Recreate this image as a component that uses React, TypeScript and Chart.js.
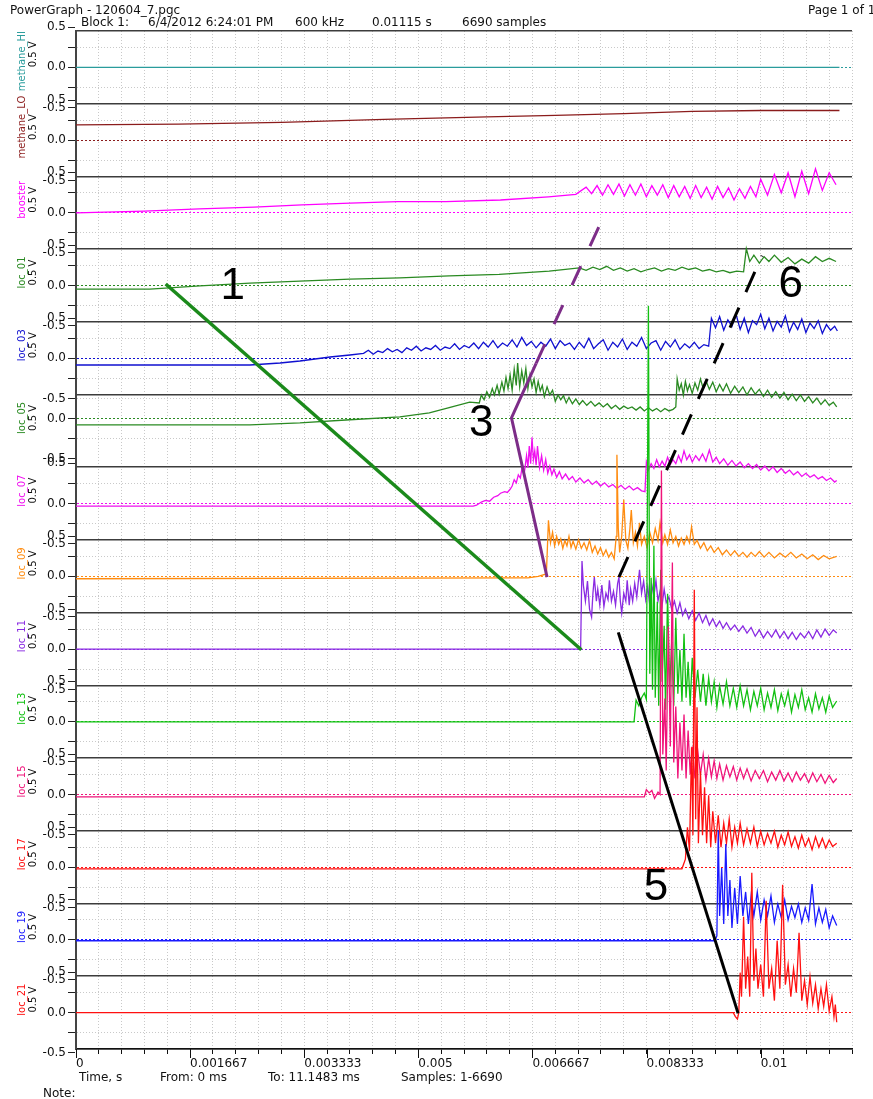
import React, { useEffect, useRef } from 'react';
import { Chart, registerables } from 'chart.js';

Chart.register(...registerables);

// ---- time axis (seconds) ----
const X_MAX_S = 34 / 3000;
const X_TICK_COUNT = 35; // one grid division every 1/3000 s
const X_TICK_LABELS = ['0', '0.001667', '0.003333', '0.005', '0.006667', '0.008333', '0.01'];

// ---- channel strips ----
const CHANNEL_NAMES = [
  'methane_HI', 'methane_LO', 'booster', 'loc_01', 'loc_03', 'loc_05', 'loc_07',
  'loc_09', 'loc_11', 'loc_13', 'loc_15', 'loc_17', 'loc_19', 'loc_21',
];
const CHANNEL_COLORS = [
  '#2a9c9c', '#8b1c1c', '#ff00ff', '#2a8a22', '#1010d0', '#2a8a22', '#f010f0',
  '#ff8c10', '#8a2be2', '#12c012', '#f0147a', '#ff1010', '#1a1aff', '#ff1010',
];
// strip row of each channel's 0 V line (strip k spans rows k..k+1)
const ZERO_ROWS = [0.5, 1.5, 2.5, 3.5, 4.5, 5.335, 6.5, 7.5, 8.5, 9.5, 10.5, 11.5, 12.5, 13.5];
const ROW_COUNT = 14;
const ROWS_PER_VOLT = 1.1;
const Y_TICK_VOLTS = [0.5, 0.25, 0, -0.25, -0.5];
const Y_TICK_TEXT = ['0.5', '', '0.0', '', '-0.5'];
const STRIP_UNIT = '0.5 V';

// ---- recorded signals: time in ms, value in V ----
const methaneHiT = [0, 11.15];
const methaneHiV = [0, 0];

const methaneLoT = [0, 1.5, 3.0, 4.5, 6.0, 7.0, 8.0, 9.0, 10.0, 11.15];
const methaneLoV = [0.19, 0.2, 0.22, 0.26, 0.29, 0.31, 0.33, 0.36, 0.37, 0.37];

const boosterT = [
  0, 1.0, 1.8, 2.6, 3.3, 4.0, 4.7, 5.4, 6.2, 6.9, 7.3,
  7.45, 7.53, 7.61, 7.69, 7.77, 7.85, 7.93, 8.01, 8.09, 8.17, 8.25, 8.33, 8.41, 8.49,
  8.57, 8.65, 8.73, 8.81, 8.89, 8.97, 9.05, 9.13, 9.21, 9.29, 9.37, 9.45, 9.53, 9.61,
  9.69, 9.77, 9.85, 9.93, 10.0, 10.1, 10.2, 10.3, 10.4, 10.5, 10.6, 10.7, 10.8, 10.9, 11.0, 11.1,
];
const boosterV = [
  0, 0.02, 0.05, 0.07, 0.1, 0.12, 0.14, 0.14, 0.16, 0.2, 0.23,
  0.32, 0.24, 0.34, 0.22, 0.35, 0.23, 0.36, 0.21, 0.35, 0.22, 0.36, 0.2, 0.34, 0.22,
  0.35, 0.19, 0.34, 0.2, 0.33, 0.18, 0.34, 0.19, 0.32, 0.17, 0.33, 0.19, 0.31, 0.16,
  0.3, 0.18, 0.33, 0.2, 0.42, 0.22, 0.48, 0.25, 0.5, 0.2, 0.52, 0.24, 0.55, 0.28, 0.5, 0.35,
];

const loc01T = [
  0, 1.08, 1.81, 2.54, 3.27, 4.0, 4.73, 5.45, 6.18, 6.91, 7.35,
  7.45, 7.55, 7.65, 7.75, 7.85, 7.95, 8.05, 8.15, 8.25, 8.35, 8.45, 8.55, 8.65, 8.75,
  8.85, 8.95, 9.05, 9.15, 9.25, 9.35, 9.45, 9.55, 9.65, 9.75, 9.79, 9.84, 9.9, 9.98,
  10.05, 10.12, 10.2, 10.3, 10.4, 10.5, 10.6, 10.7, 10.8, 10.9, 11.0, 11.1,
];
const loc01V = [
  -0.045, -0.045, -0.005, 0.03, 0.055, 0.08, 0.095, 0.12, 0.14, 0.18, 0.22,
  0.19, 0.23, 0.2, 0.24, 0.19, 0.22, 0.18, 0.21, 0.17, 0.2, 0.22, 0.18, 0.21, 0.19,
  0.23, 0.2, 0.22, 0.18, 0.2, 0.17, 0.19, 0.16, 0.18, 0.17, 0.46, 0.3, 0.38, 0.28,
  0.36, 0.3, 0.38, 0.29, 0.35, 0.27, 0.33, 0.28, 0.36, 0.3, 0.34, 0.3,
];

const loc03T = [
  0, 2.54, 2.98, 3.27, 3.71, 4.0,
  4.2, 4.27, 4.34, 4.41, 4.48, 4.55, 4.62, 4.69, 4.76, 4.83, 4.9, 4.97, 5.04, 5.11, 5.18,
  5.25, 5.32, 5.39, 5.46, 5.53, 5.6, 5.67, 5.74, 5.81, 5.88, 5.95, 6.02, 6.09, 6.16,
  6.23, 6.3, 6.37, 6.44, 6.51, 6.58, 6.65, 6.72, 6.79, 6.86, 6.93, 7.0, 7.07, 7.14,
  7.21, 7.28, 7.35, 7.42, 7.49, 7.56, 7.63, 7.7, 7.77, 7.84, 7.91, 7.98, 8.05, 8.12,
  8.19, 8.26, 8.33, 8.4, 8.47, 8.54, 8.61, 8.68, 8.75, 8.82, 8.89, 8.96, 9.03, 9.1,
  9.17, 9.24, 9.28, 9.34, 9.4, 9.46, 9.52, 9.58, 9.64, 9.7, 9.76, 9.82, 9.88, 9.94,
  10.0, 10.06, 10.12, 10.18, 10.24, 10.3, 10.36, 10.42, 10.48, 10.54, 10.6, 10.66, 10.72, 10.78,
  10.84, 10.9, 10.96, 11.02, 11.08, 11.12,
];
const loc03V = [
  -0.085, -0.085, -0.06, -0.035, 0.015, 0.04,
  0.06, 0.1, 0.05, 0.09, 0.07, 0.12, 0.08, 0.11, 0.07, 0.13, 0.1, 0.15, 0.09, 0.13, 0.11,
  0.16, 0.1, 0.14, 0.12, 0.18, 0.11, 0.16, 0.13, 0.19, 0.12, 0.2, 0.14, 0.22, 0.13,
  0.19, 0.15, 0.23, 0.14, 0.26, 0.16, 0.21, 0.13, 0.2, 0.15, 0.24, 0.12, 0.22, 0.16,
  0.19, 0.11, 0.2, 0.13, 0.25, 0.12, 0.18, 0.23, 0.1, 0.2, 0.14, 0.24, 0.11, 0.2,
  0.15, 0.26, 0.12, 0.19, 0.22, 0.1, 0.21, 0.14, 0.23, 0.11, 0.18, 0.13, 0.2, 0.12,
  0.17, 0.15, 0.5, 0.38, 0.52, 0.35, 0.48, 0.4, 0.55, 0.36, 0.5, 0.32, 0.47, 0.42,
  0.55, 0.37, 0.5, 0.34, 0.46, 0.39, 0.53, 0.33, 0.45, 0.36, 0.49, 0.32, 0.44, 0.37,
  0.47, 0.31, 0.42, 0.35, 0.4, 0.34,
];

const loc05T = [
  0, 2.54, 3.27, 4.0, 4.73, 5.16, 5.45, 5.75,
  5.89, 5.92, 5.96, 6.0, 6.04, 6.08, 6.11, 6.15, 6.18, 6.22, 6.25, 6.28, 6.31, 6.34, 6.37,
  6.4, 6.43, 6.45, 6.48, 6.51, 6.54, 6.57, 6.6, 6.63, 6.66, 6.69, 6.72, 6.75, 6.78,
  6.81, 6.84, 6.88, 6.92, 6.96, 7.0, 7.04, 7.08, 7.12, 7.16, 7.2, 7.25, 7.3, 7.35,
  7.4, 7.46, 7.52, 7.58, 7.64, 7.7, 7.76, 7.82, 7.88, 7.94, 8.0, 8.06, 8.12, 8.18,
  8.24, 8.3, 8.36, 8.42, 8.48, 8.54, 8.6, 8.66, 8.72, 8.76, 8.78, 8.81, 8.84, 8.87,
  8.9, 8.93, 8.96, 9.0, 9.04, 9.08, 9.12, 9.16, 9.2, 9.25, 9.3, 9.35, 9.4, 9.45,
  9.5, 9.56, 9.62, 9.68, 9.74, 9.8, 9.86, 9.92, 9.98, 10.04, 10.1, 10.16, 10.22, 10.28,
  10.34, 10.4, 10.46, 10.52, 10.58, 10.64, 10.7, 10.76, 10.82, 10.88, 10.94, 11.0, 11.06, 11.11,
];
const loc05V = [
  -0.075, -0.075, -0.05, -0.01, 0.025, 0.075, 0.14, 0.21,
  0.2, 0.3, 0.24, 0.34, 0.27, 0.38, 0.3, 0.42, 0.31, 0.46, 0.35, 0.52, 0.38, 0.55, 0.36,
  0.62, 0.42, 0.7, 0.4, 0.6, 0.45, 0.63, 0.38, 0.55, 0.4, 0.5, 0.33, 0.47, 0.35,
  0.42, 0.28, 0.4, 0.3, 0.36, 0.22, 0.3, 0.24, 0.29, 0.2, 0.27, 0.19, 0.25, 0.18,
  0.23, 0.17, 0.22, 0.16, 0.2, 0.15, 0.19, 0.13, 0.17, 0.12, 0.16, 0.13, 0.15, 0.11,
  0.15, 0.1, 0.14, 0.1, 0.13, 0.09, 0.13, 0.1, 0.12, 0.15, 0.5, 0.36, 0.44, 0.3,
  0.47, 0.35, 0.43, 0.32, 0.45, 0.36, 0.5, 0.38, 0.48, 0.37, 0.46, 0.34, 0.43, 0.35,
  0.44, 0.32, 0.41, 0.33, 0.4, 0.3, 0.39, 0.31, 0.37, 0.28, 0.36, 0.27, 0.34, 0.26,
  0.33, 0.24, 0.31, 0.23, 0.3, 0.22, 0.28, 0.2, 0.26, 0.18, 0.24, 0.17, 0.21, 0.15,
];

const loc07T = [
  0, 5.8, 5.85, 5.92, 5.98, 6.04, 6.1, 6.16, 6.2, 6.26, 6.3, 6.34, 6.37, 6.4, 6.43,
  6.46, 6.49, 6.52, 6.55, 6.58, 6.6, 6.62, 6.64, 6.66, 6.68, 6.7, 6.72, 6.74, 6.77,
  6.8, 6.83, 6.86, 6.89, 6.92, 6.95, 6.98, 7.02, 7.06, 7.1, 7.15, 7.2, 7.25, 7.3,
  7.36, 7.42, 7.48, 7.54, 7.6, 7.66, 7.72, 7.78, 7.84, 7.9, 7.96, 8.02, 8.08, 8.14,
  8.2, 8.26, 8.31, 8.33, 8.36, 8.4, 8.44, 8.48, 8.52, 8.56, 8.6, 8.64, 8.68, 8.72,
  8.76, 8.8, 8.84, 8.88, 8.92, 8.96, 9.0, 9.05, 9.1, 9.15, 9.2, 9.25, 9.3, 9.35,
  9.4, 9.46, 9.52, 9.58, 9.64, 9.7, 9.76, 9.82, 9.88, 9.94, 10.0, 10.06, 10.12, 10.18,
  10.24, 10.3, 10.36, 10.42, 10.48, 10.54, 10.6, 10.66, 10.72, 10.78, 10.84, 10.9, 10.96, 11.02,
  11.08, 11.11,
];
const loc07V = [
  -0.03, -0.03, -0.02, 0.02, 0.04, 0.03, 0.08, 0.1, 0.13, 0.15, 0.14, 0.18, 0.22, 0.3, 0.26,
  0.36, 0.32, 0.48, 0.4, 0.6, 0.45, 0.72, 0.5, 0.83, 0.55, 0.66, 0.48, 0.72, 0.45,
  0.6, 0.42, 0.55, 0.38, 0.47, 0.36, 0.43, 0.33, 0.4, 0.31, 0.37, 0.3, 0.34, 0.27,
  0.32, 0.26, 0.3, 0.24, 0.28, 0.22, 0.26, 0.21, 0.24, 0.19, 0.23, 0.18, 0.22, 0.17,
  0.2, 0.16, 0.15, 0.52, 0.42, 0.5, 0.44, 0.55, 0.46, 0.53, 0.47, 0.58, 0.49, 0.55,
  0.5, 0.6, 0.52, 0.66, 0.55, 0.61, 0.52, 0.6, 0.54, 0.62, 0.53, 0.67, 0.52, 0.58,
  0.5, 0.56, 0.48, 0.54, 0.47, 0.52, 0.45, 0.5, 0.44, 0.49, 0.42, 0.47, 0.41, 0.46,
  0.39, 0.44, 0.38, 0.42, 0.36, 0.4, 0.34, 0.38, 0.33, 0.36, 0.31, 0.34, 0.29, 0.32,
  0.27, 0.29,
];

const loc09T = [
  0, 6.5, 6.6, 6.75, 6.87, 6.9, 6.93, 6.96, 6.99, 7.02, 7.05, 7.08, 7.11, 7.14, 7.17,
  7.2, 7.23, 7.26, 7.3, 7.34, 7.38, 7.42, 7.46, 7.5, 7.54, 7.58, 7.62, 7.66, 7.7,
  7.74, 7.78, 7.82, 7.86, 7.89, 7.9, 7.92, 7.94, 7.97, 8.0, 8.03, 8.06, 8.09, 8.11,
  8.14, 8.17, 8.2, 8.23, 8.26, 8.3, 8.34, 8.38, 8.42, 8.46, 8.5, 8.53, 8.57, 8.6,
  8.64, 8.68, 8.72, 8.76, 8.8, 8.84, 8.88, 8.92, 8.96, 8.99, 9.03, 9.07, 9.12, 9.17,
  9.22, 9.27, 9.32, 9.38, 9.44, 9.5, 9.56, 9.62, 9.68, 9.74, 9.8, 9.86, 9.92, 9.98,
  10.05, 10.12, 10.2, 10.28, 10.36, 10.44, 10.52, 10.6, 10.68, 10.76, 10.84, 10.92, 11.0, 11.11,
];
const loc09V = [
  -0.03, -0.02, -0.02, 0.0, 0.03, 0.7, 0.42, 0.55, 0.38, 0.5, 0.4, 0.47, 0.35, 0.45, 0.38,
  0.5, 0.36, 0.44, 0.34, 0.46, 0.35, 0.42, 0.33, 0.45, 0.3, 0.38, 0.28, 0.36, 0.26,
  0.33, 0.24, 0.3, 0.22, 0.5, 1.52, 0.6, 0.3, 0.5, 0.96, 0.45, 0.35, 0.6, 0.83,
  0.42, 0.55, 0.38, 0.67, 0.4, 0.5, 0.36, 0.55, 0.42, 0.6, 0.45, 0.67, 0.42, 0.52,
  0.4, 0.58, 0.42, 0.5, 0.38, 0.48, 0.4, 0.5, 0.42, 0.62, 0.4, 0.45, 0.35, 0.42,
  0.32, 0.38, 0.3, 0.36, 0.27, 0.33, 0.26, 0.32, 0.25, 0.3, 0.24, 0.3, 0.25, 0.31,
  0.24, 0.3, 0.23, 0.29, 0.24, 0.3, 0.23, 0.28, 0.22, 0.27, 0.21, 0.26, 0.22, 0.25,
];

const loc11T = [
  0, 7.37, 7.39, 7.41, 7.44, 7.47, 7.5, 7.53, 7.55, 7.57, 7.6, 7.62, 7.65, 7.68, 7.71,
  7.74, 7.77, 7.79, 7.82, 7.85, 7.88, 7.91, 7.93, 7.95, 7.97, 8.0, 8.03, 8.05, 8.08,
  8.1, 8.13, 8.16, 8.19, 8.23, 8.26, 8.29, 8.32, 8.35, 8.38, 8.41, 8.44, 8.47, 8.5,
  8.53, 8.56, 8.59, 8.62, 8.66, 8.7, 8.74, 8.78, 8.82, 8.86, 8.9, 8.95, 9.0, 9.05,
  9.1, 9.15, 9.2, 9.25, 9.3, 9.35, 9.4, 9.45, 9.5, 9.56, 9.62, 9.68, 9.74, 9.8,
  9.86, 9.92, 9.98, 10.04, 10.1, 10.16, 10.22, 10.28, 10.34, 10.4, 10.46, 10.52, 10.58, 10.64,
  10.7, 10.76, 10.82, 10.88, 10.94, 11.0, 11.06, 11.11,
];
const loc11V = [
  0, 0, 1.1, 0.8, 0.6, 0.85, 0.5, 0.4, 0.7, 0.9, 0.6, 0.75, 0.55, 0.8, 0.53,
  0.7, 0.62, 0.86, 0.6, 0.72, 0.55, 0.82, 0.9, 0.6, 0.45, 0.7, 0.6, 0.86, 0.55,
  0.75, 0.6, 0.82, 0.65, 0.99, 0.7, 0.85, 0.62, 0.78, 0.55, 0.8, 0.66, 0.86, 0.6,
  0.72, 0.55, 0.75, 0.58, 0.65, 0.5, 0.6, 0.45, 0.58, 0.42, 0.5, 0.38, 0.48, 0.36,
  0.45, 0.33, 0.42, 0.3, 0.38, 0.28, 0.35, 0.26, 0.33, 0.24, 0.3, 0.22, 0.29, 0.2,
  0.27, 0.16, 0.24, 0.14, 0.22, 0.15, 0.24, 0.14, 0.22, 0.13, 0.21, 0.12, 0.2, 0.14,
  0.22, 0.13, 0.24, 0.15, 0.25, 0.17, 0.24, 0.2,
];

const loc13T = [
  0, 8.15, 8.18, 8.22, 8.26, 8.3, 8.33, 8.36, 8.38, 8.4, 8.42, 8.44, 8.46, 8.49, 8.51,
  8.54, 8.56, 8.59, 8.61, 8.64, 8.67, 8.7, 8.73, 8.76, 8.79, 8.82, 8.85, 8.88, 8.91,
  8.94, 8.97, 9.0, 9.04, 9.08, 9.12, 9.16, 9.2, 9.24, 9.28, 9.32, 9.36, 9.4, 9.45,
  9.5, 9.55, 9.6, 9.65, 9.7, 9.75, 9.8, 9.85, 9.9, 9.95, 10.0, 10.05, 10.1, 10.15,
  10.2, 10.25, 10.3, 10.35, 10.4, 10.45, 10.5, 10.55, 10.6, 10.65, 10.7, 10.75, 10.8, 10.85,
  10.9, 10.95, 11.0, 11.05, 11.11,
];
const loc13V = [
  0, 0, 0.27, 0.2, 0.3, 0.36, 0.28, 5.2, 0.6, 1.8, 0.4, 2.2, 0.3, 1.5, 0.2,
  1.9, 0.5, 1.2, 0.15, 1.6, 0.4, 1.0, 0.2, 1.3, 0.35, 0.9, 0.25, 1.1, 0.3,
  0.75, 0.2, 0.8, 0.3, 0.65, 0.25, 0.6, 0.2, 0.55, 0.25, 0.5, 0.18, 0.45, 0.22,
  0.5, 0.2, 0.42, 0.18, 0.45, 0.2, 0.4, 0.15, 0.38, 0.2, 0.42, 0.15, 0.36, 0.18,
  0.4, 0.14, 0.35, 0.2, 0.38, 0.12, 0.34, 0.18, 0.4, 0.15, 0.3, 0.12, 0.35, 0.16,
  0.3, 0.12, 0.32, 0.18, 0.26,
];

const loc15T = [
  0, 8.3, 8.33, 8.37, 8.41, 8.45, 8.5, 8.53, 8.55, 8.57, 8.6, 8.62, 8.65, 8.68, 8.71,
  8.73, 8.76, 8.79, 8.82, 8.85, 8.88, 8.91, 8.94, 8.97, 9.0, 9.04, 9.08, 9.12, 9.16,
  9.2, 9.24, 9.28, 9.32, 9.36, 9.4, 9.45, 9.5, 9.55, 9.6, 9.65, 9.7, 9.75, 9.8,
  9.86, 9.92, 9.98, 10.04, 10.1, 10.16, 10.22, 10.28, 10.34, 10.4, 10.46, 10.52, 10.58, 10.64,
  10.7, 10.76, 10.82, 10.88, 10.94, 11.0, 11.06, 11.11,
];
const loc15V = [
  -0.03, -0.03, 0.06, 0.02, 0.05, -0.05, 0.03, 0.0, 4.05, 0.5, 1.2, 0.3, 2.1, 0.6, 2.9,
  0.4, 1.1, 0.2, 0.9, 0.3, 1.0, 0.2, 0.8, 0.25, 0.6, 0.2, 0.55, 0.25, 0.5,
  0.18, 0.45, 0.22, 0.42, 0.2, 0.38, 0.18, 0.36, 0.22, 0.35, 0.18, 0.33, 0.2, 0.32,
  0.17, 0.3, 0.2, 0.3, 0.16, 0.28, 0.18, 0.3, 0.17, 0.27, 0.16, 0.28, 0.18, 0.26,
  0.15, 0.27, 0.16, 0.25, 0.14, 0.24, 0.15, 0.2,
];

const loc17T = [
  0, 8.85, 8.9, 8.93, 8.96, 8.99, 9.01, 9.03, 9.05, 9.07, 9.09, 9.12, 9.15, 9.18, 9.21,
  9.24, 9.27, 9.3, 9.34, 9.38, 9.42, 9.46, 9.5, 9.54, 9.58, 9.62, 9.66, 9.7, 9.75,
  9.8, 9.85, 9.9, 9.95, 10.0, 10.05, 10.1, 10.15, 10.2, 10.25, 10.3, 10.35, 10.4, 10.45,
  10.5, 10.55, 10.6, 10.65, 10.7, 10.75, 10.8, 10.85, 10.9, 10.95, 11.0, 11.05, 11.11,
];
const loc17V = [
  -0.02, -0.02, 0.1, 0.5, 0.2, 1.5, 0.4, 3.47, 0.6, 2.0, 0.3, 1.2, 0.4, 1.0, 0.3,
  0.9, 0.25, 0.7, 0.3, 0.65, 0.25, 0.55, 0.3, 0.6, 0.25, 0.5, 0.3, 0.55, 0.28,
  0.48, 0.3, 0.5, 0.26, 0.45, 0.28, 0.42, 0.3, 0.45, 0.25, 0.4, 0.28, 0.44, 0.26,
  0.38, 0.24, 0.4, 0.26, 0.36, 0.22, 0.38, 0.25, 0.36, 0.24, 0.34, 0.26, 0.3,
];

const loc19T = [
  0, 9.33, 9.36, 9.38, 9.4, 9.43, 9.46, 9.49, 9.52, 9.55, 9.58, 9.62, 9.66, 9.7, 9.74,
  9.78, 9.82, 9.86, 9.9, 9.95, 10.0, 10.05, 10.1, 10.15, 10.2, 10.25, 10.3, 10.35, 10.4,
  10.45, 10.5, 10.55, 10.6, 10.65, 10.7, 10.75, 10.8, 10.85, 10.9, 10.95, 11.0, 11.05, 11.11,
];
const loc19V = [
  -0.01, -0.01, 0.05, 1.37, 0.3, 0.9, 0.2, 1.2, 0.3, 0.75, 0.15, 0.65, 0.2, 0.8, 0.3,
  0.6, 0.2, 0.55, 0.3, 0.6, 0.25, 0.5, 0.3, 0.55, 0.22, 0.45, 0.28, 0.5, 0.25,
  0.42, 0.28, 0.45, 0.22, 0.4, 0.25, 0.7, 0.2, 0.4, 0.22, 0.38, 0.15, 0.3, 0.18,
];

const loc21T = [
  0, 9.6, 9.63, 9.66, 9.68, 9.7, 9.72, 9.75, 9.78, 9.81, 9.84, 9.87, 9.9, 9.93, 9.96,
  10.0, 10.04, 10.08, 10.12, 10.16, 10.2, 10.24, 10.28, 10.32, 10.36, 10.4, 10.44, 10.48, 10.52,
  10.56, 10.6, 10.64, 10.68, 10.72, 10.76, 10.8, 10.84, 10.88, 10.92, 10.96, 11.0, 11.04, 11.07,
  11.09, 11.11,
];
const loc21V = [
  0, 0, -0.05, -0.08, 0.0, 0.5, 0.2, 1.2, 0.3, 0.7, 0.2, 1.75, 0.4, 0.8, 0.3,
  0.6, 0.2, 1.4, 0.3, 0.55, 0.15, 0.9, 0.3, 1.6, 0.35, 0.6, 0.2, 0.55, 0.25,
  1.0, 0.15, 0.4, 0.1, 0.45, 0.12, 0.35, 0.05, 0.3, 0.08, 0.35, 0.02, 0.2, -0.05,
  0.1, -0.12,
];

const SIGNAL_T = [
  methaneHiT, methaneLoT, boosterT, loc01T, loc03T, loc05T, loc07T,
  loc09T, loc11T, loc13T, loc15T, loc17T, loc19T, loc21T,
];
const SIGNAL_V = [
  methaneHiV, methaneLoV, boosterV, loc01V, loc03V, loc05V, loc07V,
  loc09V, loc11V, loc13V, loc15V, loc17V, loc19V, loc21V,
];

// ---- hand-drawn front markers: time in ms, position in strip rows ----
const front1T = [1.31, 7.38];
const front1Row = [3.48, 8.51];
const front3T = [6.88, 6.36, 6.72];
const front3Row = [7.51, 5.32, 4.57];
const front3DashT = [6.72, 7.73];
const front3DashRow = [4.57, 2.5];
const front5T = [7.92, 9.67];
const front5Row = [8.27, 13.51];
const front6DashT = [7.93, 10.02];
const front6DashRow = [7.51, 3.09];

const MARK_TEXT = ['1', '3', '5', '6'];
const MARK_T = [2.29, 5.92, 8.47, 10.44];
const MARK_ROW = [3.49, 5.38, 11.76, 3.47];

// ---- page text ----
const HEADER_TEXT: [string, number, number][] = [
  ['PowerGraph - 120604_7.pgc', 10, 11],
  ['Block 1:', 81, 23],
  ['6/4/2012 6:24:01 PM', 148, 23],
  ['600 kHz', 295, 23],
  ['0.01115 s', 372, 23],
  ['6690 samples', 462, 23],
  ['Page 1 of 1', 808, 11],
  ['Time, s', 79, 1078],
  ['From: 0 ms', 160, 1078],
  ['To: 11.1483 ms', 268, 1078],
  ['Samples: 1-6690', 401, 1078],
  ['Note:', 43, 1094],
];

type YTick = {
  value: number;
  label: string | string[];
  kind: 'edge' | 'zero' | 'minor' | 'end';
  color: string;
};

// Strip edges carry the stacked "0.5 / -0.5" pair of the two neighbouring strips.
const Y_TICKS: YTick[] = (() => {
  const edges: YTick[] = [];
  const above: string[] = [];
  const below: string[] = [];
  for (let r = 0; r <= ROW_COUNT; r++) {
    edges.push({ value: r, label: '', kind: 'edge', color: '#3c3c3c' });
    above.push('');
    below.push('');
  }
  const inner: YTick[] = [];
  CHANNEL_NAMES.forEach((_, k) => {
    const stripTop = Math.floor(ZERO_ROWS[k]);
    Y_TICK_VOLTS.forEach((v, j) => {
      const row = ZERO_ROWS[k] - v * ROWS_PER_VOLT;
      if (row < stripTop - 0.06 || row > stripTop + 1.06) return;
      const edge = Math.abs(Math.round(row));
      const onEdge = Math.abs(row - edge) < 0.06;
      let text = Y_TICK_TEXT[j];
      if (onEdge && text) {
        if (row < edge) above[edge] = text;
        else below[edge] = text;
        text = '';
      }
      inner.push({
        value: row,
        label: text,
        kind: v === 0 ? 'zero' : Math.abs(v) === 0.5 ? 'end' : 'minor',
        color: CHANNEL_COLORS[k],
      });
    });
  });
  edges.forEach((e, r) => {
    if (above[r] || below[r]) e.label = [above[r], below[r]];
  });
  return [...edges, ...inner].sort((a, b) => a.value - b.value);
})();

const FONT = '"DejaVu Sans", sans-serif';

const pageTextPlugin = {
  id: 'pageText',
  afterDraw(chart: any) {
    const ctx: CanvasRenderingContext2D = chart.ctx;
    const xs = chart.scales.x;
    const ys = chart.scales.y;
    const top = chart.chartArea.top;
    ctx.save();
    ctx.font = `12px ${FONT}`;
    ctx.textBaseline = 'middle';
    ctx.textAlign = 'left';
    ctx.fillStyle = '#111';
    HEADER_TEXT.forEach(([t, px, py]) => ctx.fillText(t, px, py));

    // label of the top strip edge, sitting just above the frame
    const topEdge = Y_TICKS.find((t) => t.kind === 'edge' && t.value === 0);
    if (topEdge && Array.isArray(topEdge.label) && topEdge.label[0]) {
      ctx.textAlign = 'right';
      ctx.fillText(topEdge.label[0], 66, top - 4);
    }

    // longer marks under the labelled time ticks
    ctx.strokeStyle = '#111';
    ctx.lineWidth = 1;
    X_TICK_LABELS.forEach((_, i) => {
      const px = Math.round(xs.getPixelForValue((i * 5 * X_MAX_S) / (X_TICK_COUNT - 1))) + 0.5;
      ctx.beginPath();
      ctx.moveTo(px, xs.top);
      ctx.lineTo(px, xs.top + 9);
      ctx.stroke();
    });

    ctx.font = `10px ${FONT}`;
    ctx.textAlign = 'center';
    CHANNEL_NAMES.forEach((name, k) => {
      const stripMid = ys.getPixelForValue(Math.floor(ZERO_ROWS[k]) + 0.5) - 13;
      const w = ctx.measureText(name).width;
      const nameMid = Math.max(stripMid, top + w / 2);
      ctx.save();
      ctx.translate(22, nameMid);
      ctx.rotate(-Math.PI / 2);
      ctx.fillStyle = CHANNEL_COLORS[k];
      ctx.fillText(name, 0, 0);
      ctx.restore();
      ctx.save();
      ctx.translate(33, stripMid);
      ctx.rotate(-Math.PI / 2);
      ctx.fillStyle = '#111';
      ctx.fillText(STRIP_UNIT, 0, 0);
      ctx.restore();
    });

    ctx.font = `44px "Liberation Sans", sans-serif`;
    ctx.fillStyle = '#000';
    MARK_TEXT.forEach((m, i) => {
      ctx.fillText(m, xs.getPixelForValue(MARK_T[i] / 1000), ys.getPixelForValue(MARK_ROW[i]) + 2);
    });
    ctx.restore();
  },
};

function toPoints(ts: number[], vs: number[]) {
  return ts.map((t, i) => ({ x: t / 1000, y: vs[i] }));
}

export default function App() {
  const canvasRef = useRef<HTMLCanvasElement | null>(null);

  useEffect(() => {
    const canvas = canvasRef.current;
    if (!canvas) return;

    const channelScales: Record<string, any> = {};
    CHANNEL_NAMES.forEach((_, k) => {
      channelScales['ch' + k] = {
        type: 'linear',
        display: false,
        bounds: 'data',
        min: (ZERO_ROWS[k] - ROW_COUNT) / ROWS_PER_VOLT,
        max: ZERO_ROWS[k] / ROWS_PER_VOLT,
      };
    });

    const signalSets = CHANNEL_NAMES.map((name, k) => ({
      label: name,
      data: toPoints(SIGNAL_T[k], SIGNAL_V[k]),
      yAxisID: 'ch' + k,
      borderColor: CHANNEL_COLORS[k],
      borderWidth: 1.3,
      pointRadius: 0,
      tension: 0,
      fill: false,
      order: 100 - k,
    }));

    const markerSet = (label: string, ts: number[], rows: number[], color: string, width: number, dash: number[]) => ({
      label,
      data: toPoints(ts, rows),
      yAxisID: 'y',
      borderColor: color,
      borderWidth: width,
      borderDash: dash,
      borderCapStyle: 'butt' as const,
      pointRadius: 0,
      tension: 0,
      fill: false,
      order: 0,
    });

    const chart = new Chart(canvas, {
      type: 'line',
      data: {
        datasets: [
          markerSet('front 1', front1T, front1Row, '#1b8a1b', 3.5, []),
          markerSet('front 3', front3T, front3Row, '#7d2d88', 3, []),
          markerSet('front 3 ext', front3DashT, front3DashRow, '#7d2d88', 3, [21, 22]),
          markerSet('front 5', front5T, front5Row, '#000000', 3, []),
          markerSet('front 6', front6DashT, front6DashRow, '#000000', 3, [22, 17]),
          ...signalSets,
        ] as any,
      },
      options: {
        responsive: false,
        animation: false,
        layout: { padding: { top: 31, right: 21, left: 0, bottom: 0 } },
        plugins: { legend: { display: false }, tooltip: { enabled: false }, title: { display: false } },
        scales: {
          x: {
            type: 'linear',
            min: 0,
            max: X_MAX_S,
            bounds: 'data',
            afterBuildTicks: (s: any) => {
              s.ticks = Array.from({ length: X_TICK_COUNT }, (_, i) => ({ value: (i * X_MAX_S) / (X_TICK_COUNT - 1) }));
            },
            afterFit: (s: any) => {
              s.height = 50;
            },
            grid: {
              color: '#c9c9c9',
              lineWidth: 1,
              tickColor: '#111',
              tickLength: 5,
            },
            border: { display: true, color: '#111', width: 1.5, dash: (c: any) => (c.index === undefined ? [] : [1, 2]) },
            ticks: {
              autoSkip: false,
              maxRotation: 0,
              align: 'start',
              padding: 3,
              color: '#111',
              font: { family: FONT, size: 12 },
              callback: (_v: any, i: number) => (i % 5 === 0 ? X_TICK_LABELS[i / 5] ?? '' : ''),
            },
          },
          y: {
            type: 'linear',
            reverse: true,
            min: 0,
            max: ROW_COUNT,
            bounds: 'data',
            position: 'left',
            afterBuildTicks: (s: any) => {
              s.ticks = Y_TICKS.map((t) => ({ value: t.value }));
            },
            afterFit: (s: any) => {
              s.width = 76;
            },
            grid: {
              color: (c: any) => {
                const t = Y_TICKS[c.index];
                if (!t) return '#c9c9c9';
                if (t.kind === 'edge') return '#3c3c3c';
                if (t.kind === 'zero') return t.color;
                if (t.kind === 'end') return 'rgba(0,0,0,0)';
                return '#c9c9c9';
              },
              lineWidth: (c: any) => (Y_TICKS[c.index]?.kind === 'edge' ? 1.6 : 1),
              tickColor: (c: any) => (Y_TICKS[c.index]?.kind === 'edge' ? 'rgba(0,0,0,0)' : '#222'),
              tickLength: 8,
            },
            border: {
              display: true,
              color: '#444',
              width: 2,
              dash: (c: any) => {
                const t = Y_TICKS[c.index];
                if (!t || t.kind === 'edge') return [];
                return t.kind === 'zero' ? [2, 2] : [1, 2];
              },
            },
            ticks: {
              autoSkip: false,
              padding: 2,
              color: '#111',
              font: { family: FONT, size: 12, lineHeight: 0.68 },
              callback: (_v: any, i: number) => {
                const t = Y_TICKS[i];
                if (!t) return '';
                // the top edge label is painted with the page text above the frame
                if (t.kind === 'edge' && t.value === 0) return '';
                return t.label;
              },
            },
          },
          ...channelScales,
        },
      } as any,
      plugins: [pageTextPlugin],
    });

    return () => chart.destroy();
  }, []);

  return (
    <div style={{ position: 'absolute', left: 0, top: 0, width: 873, height: 1099, background: '#fff' }}>
      <canvas ref={canvasRef} width={873} height={1099} style={{ display: 'block' }} />
    </div>
  );
}
